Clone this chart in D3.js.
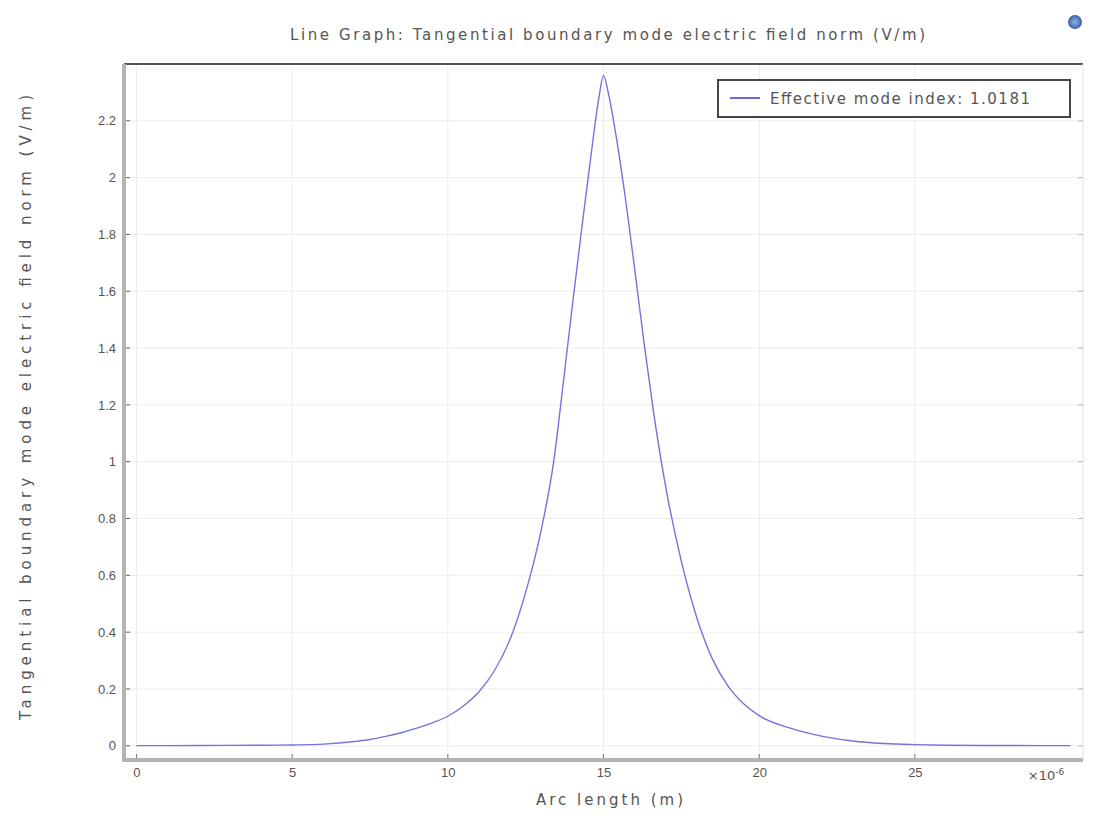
<!DOCTYPE html>
<html>
<head>
<meta charset="utf-8">
<script src="https://cdn.jsdelivr.net/npm/d3@7"></script>
<style>
  body { margin: 0; background: #fff; }
  svg { font-family: "DejaVu Sans", "Liberation Sans", Arial, sans-serif; }
</style>
</head>
<body>
<div id="chart"></div>
<script>
// arc length (um) and field norm (V/m)
const arcLength = [0, 2, 4, 5, 6, 7, 7.5, 8, 8.5, 9, 9.5, 10, 10.5, 11, 11.5, 12, 12.5, 13, 13.4, 13.7, 14, 14.3, 14.6, 14.85, 15,
  15.15, 15.4, 15.7, 16, 16.3, 16.6, 17, 17.5, 18, 18.5, 19, 19.5, 20, 21, 22, 23, 24, 25, 26, 28, 30];
const fieldNorm = [0.0005, 0.001, 0.002, 0.003, 0.006, 0.015, 0.022, 0.033, 0.046, 0.062, 0.081, 0.104, 0.14, 0.19, 0.265, 0.375, 0.54, 0.76, 1.0, 1.27, 1.55, 1.82, 2.08, 2.28, 2.36,
  2.3, 2.15, 1.93, 1.68, 1.42, 1.18, 0.91, 0.65, 0.45, 0.305, 0.21, 0.148, 0.106, 0.062, 0.034, 0.017, 0.008, 0.004, 0.002, 0.001, 0.0005];
const xTicks = [0, 5, 10, 15, 20, 25];
const yTicks = [0, 0.2, 0.4, 0.6, 0.8, 1, 1.2, 1.4, 1.6, 1.8, 2, 2.2];
const legendLabel = "Effective mode index: 1.0181";

(function () {
    const width = 1105, height = 824;
    const pLeft = 124, pRight = 1083, pTop = 64, pBottom = 760;
    const textColor = "#555";

    const svg = d3.select("#chart").append("svg")
        .attr("width", width)
        .attr("height", height);

    const x = d3.scaleLinear().domain([-0.4, 30.4]).range([pLeft, pRight]);
    const y = d3.scaleLinear().domain([-0.05, 2.4]).range([pBottom, pTop]);

    // grid
    svg.append("g")
        .selectAll("line")
        .data(xTicks)
        .join("line")
        .attr("x1", d => x(d)).attr("x2", d => x(d))
        .attr("y1", pTop).attr("y2", pBottom)
        .attr("stroke", "#ececec");

    svg.append("g")
        .selectAll("line")
        .data(yTicks)
        .join("line")
        .attr("x1", pLeft).attr("x2", pRight)
        .attr("y1", d => y(d)).attr("y2", d => y(d))
        .attr("stroke", "#ececec");

    // the curve
    const data = arcLength.map((a, i) => ({ a, v: fieldNorm[i] }));
    const line = d3.line()
        .x(d => x(d.a))
        .y(d => y(d.v))
        .curve(d3.curveMonotoneX);

    svg.append("path")
        .datum(data)
        .attr("fill", "none")
        .attr("stroke", "#7474da")
        .attr("stroke-width", 1.4)
        .attr("d", line);

    // frame
    svg.append("line")
        .attr("x1", pLeft).attr("x2", pRight).attr("y1", pTop).attr("y2", pTop)
        .attr("stroke", "#555").attr("stroke-width", 2);
    svg.append("line")
        .attr("x1", pRight).attr("x2", pRight).attr("y1", pTop).attr("y2", pBottom)
        .attr("stroke", "#e2e2e2").attr("stroke-width", 1);

    // axes
    const yAxis = svg.append("g")
        .attr("transform", `translate(${pLeft},0)`)
        .call(d3.axisLeft(y).tickValues(yTicks).tickSize(0).tickPadding(8).tickFormat(d3.format("~g")));
    yAxis.select(".domain").remove();
    yAxis.selectAll("text").attr("fill", textColor).style("font-size", "13px");

    const xAxis = svg.append("g")
        .attr("transform", `translate(0,${pBottom})`)
        .call(d3.axisBottom(x).tickValues(xTicks).tickSize(0).tickPadding(8).tickFormat(d3.format("d")));
    xAxis.select(".domain").remove();
    xAxis.selectAll("text").attr("fill", textColor).style("font-size", "13px");

    // inner tick marks
    svg.append("g")
        .selectAll("line")
        .data(yTicks)
        .join("line")
        .attr("x1", pLeft).attr("x2", pLeft + 6)
        .attr("y1", d => y(d)).attr("y2", d => y(d))
        .attr("stroke", "#666");
    svg.append("g")
        .selectAll("line")
        .data(yTicks)
        .join("line")
        .attr("x1", pRight - 5).attr("x2", pRight)
        .attr("y1", d => y(d)).attr("y2", d => y(d))
        .attr("stroke", "#bbb");
    svg.append("g")
        .selectAll("line")
        .data(xTicks)
        .join("line")
        .attr("x1", d => x(d)).attr("x2", d => x(d))
        .attr("y1", pBottom - 6).attr("y2", pBottom)
        .attr("stroke", "#777");

    svg.append("line")
        .attr("x1", pLeft).attr("x2", pLeft).attr("y1", pTop).attr("y2", pBottom + 2)
        .attr("stroke", "#b4b4b4").attr("stroke-width", 4);
    svg.append("line")
        .attr("x1", pLeft - 2).attr("x2", pRight).attr("y1", pBottom).attr("y2", pBottom)
        .attr("stroke", "#b4b4b4").attr("stroke-width", 4);

    // exponent label
    const expo = svg.append("text")
        .attr("x", 1046).attr("y", pBottom + 20)
        .attr("text-anchor", "middle")
        .attr("fill", textColor)
        .style("font-size", "13px")
        .text("×10");
    expo.append("tspan").attr("dy", -5).style("font-size", "9px").text("-6");

    // titles (the reference text is set wide, so spread the letters)
    svg.append("text")
        .attr("x", 290).attr("y", 40)
        .attr("textLength", 635)
        .attr("lengthAdjust", "spacing")
        .attr("fill", textColor)
        .style("font-size", "15px")
        .text("Line Graph: Tangential boundary mode electric field norm (V/m)");

    svg.append("text")
        .attr("x", 536).attr("y", 805)
        .attr("textLength", 147)
        .attr("lengthAdjust", "spacing")
        .attr("fill", textColor)
        .style("font-size", "15px")
        .text("Arc length (m)");

    svg.append("text")
        .attr("transform", "translate(31,720) rotate(-90)")
        .attr("textLength", 625)
        .attr("lengthAdjust", "spacing")
        .attr("fill", textColor)
        .style("font-size", "15px")
        .text("Tangential boundary mode electric field norm (V/m)");

    // legend
    const lg = svg.append("g");
    lg.append("rect")
        .attr("x", 718).attr("y", 80).attr("width", 352).attr("height", 37)
        .attr("fill", "#fff").attr("stroke", "#444").attr("stroke-width", 2);
    lg.append("line")
        .attr("x1", 730).attr("x2", 760).attr("y1", 98).attr("y2", 98)
        .attr("stroke", "#6b6bd8").attr("stroke-width", 2);
    lg.append("text")
        .attr("x", 770).attr("y", 104)
        .attr("textLength", 260)
        .attr("lengthAdjust", "spacing")
        .attr("fill", textColor)
        .style("font-size", "15px")
        .text(legendLabel);

    // small globe icon top right
    const grad = svg.append("defs").append("radialGradient").attr("id", "globe");
    grad.append("stop").attr("offset", "0%").attr("stop-color", "#8fb4e8");
    grad.append("stop").attr("offset", "100%").attr("stop-color", "#3a5fa8");
    svg.append("circle")
        .attr("cx", 1075).attr("cy", 22).attr("r", 7)
        .attr("fill", "url(#globe)");
})();
</script>
</body>
</html>
